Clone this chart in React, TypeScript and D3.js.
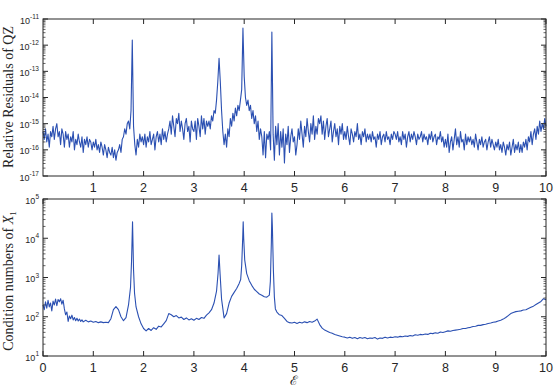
import React, { useRef, useEffect } from 'react';
import * as d3 from 'd3';

// log10 of the QZ relative residual, sampled every 0.025 in epsilon (0 .. 10)
const residualStep = 0.025;
const residualLog: number[] = [
  // 0.0
  -15.3, -15.6, -15.2, -15.7, -15.4, -15.9, -15.3, -15.5, -15.1, -15.6, -15.2, -15.0, -15.5, -15.3, -15.8, -15.2, -15.4, -15.9, -15.3, -15.6,
  // 0.5
  -15.4, -15.9, -15.5, -15.7, -15.3, -16.0, -15.6, -15.8, -15.4, -15.7, -15.9, -15.5, -16.1, -15.6, -15.8, -15.5, -15.9, -15.6, -15.7, -16.0,
  // 1.0
  -15.7, -15.9, -15.6, -16.0, -15.8, -16.1, -15.7, -15.9, -16.2, -15.8, -16.0, -16.3, -15.9, -16.1, -16.2, -15.9, -16.3, -16.0, -16.4, -16.1,
  // 1.5
  -16.0, -15.8, -16.1, -15.6, -15.5, -15.2, -15.4, -15.0, -14.9, -15.2, -14.5, -11.8, -15.1, -15.8, -16.2, -15.6, -15.9, -15.4, -15.7, -15.5,
  // 2.0
  -15.8, -15.4, -15.9, -15.5, -15.7, -15.3, -15.8, -15.6, -15.4, -16.0, -15.5, -15.3, -15.7, -15.4, -15.8, -15.2, -15.6, -15.3, -15.7, -15.4,
  // 2.5
  -15.2, -14.9, -15.4, -14.7, -15.1, -15.5, -14.8, -15.0, -14.6, -15.3, -14.9, -15.2, -15.6, -15.0, -14.8, -15.3, -15.1, -15.7, -14.9, -15.2,
  // 3.0
  -15.3, -14.9, -15.6, -14.8, -15.1, -15.5, -14.7, -15.2, -14.8, -15.4, -14.9, -15.1, -14.9, -15.2, -14.7, -14.9, -14.5, -14.6, -14.1, -13.4,
  // 3.5
  -12.5, -13.4, -14.5, -15.3, -15.8, -15.4, -15.9, -15.2, -15.5, -14.8, -15.1, -14.6, -14.9, -14.4, -14.7, -14.3, -14.5, -14.1, -13.7, -11.35,
  // 4.0
  -13.2, -14.0, -14.3, -14.1, -14.5, -14.3, -14.8, -14.5, -15.0, -14.7, -15.3, -14.9, -15.6, -15.2, -15.5, -16.2, -15.3, -16.3, -15.4, -15.6,
  // 4.5
  -15.3, -16.0, -11.5, -15.4, -16.4, -15.1, -15.8, -15.0, -16.2, -15.3, -15.9, -15.2, -16.5, -15.4, -15.8, -15.1, -16.1, -15.5, -15.2, -15.7,
  // 5.0
  -15.5, -16.2, -15.8, -15.2, -15.6, -14.9, -15.4, -15.9, -15.1, -15.5, -14.8, -15.3, -15.7, -15.0, -15.4, -14.7, -15.6, -15.1, -15.4, -14.8,
  // 5.5
  -15.0, -14.7, -15.4, -14.9, -15.6, -15.1, -14.8, -15.5, -15.2, -14.9, -15.7, -15.3, -15.0, -15.5, -15.2, -15.8, -15.1, -15.4, -15.0, -15.6,
  // 6.0
  -15.3, -15.6, -15.1, -15.5, -15.8, -15.2, -15.4, -15.7, -15.3, -15.5, -15.0, -15.6, -15.4, -15.8, -15.3, -15.5, -15.2, -15.7, -15.4, -15.6,
  // 6.5
  -15.4, -15.7, -15.3, -15.6, -15.5, -15.9, -15.4, -15.6, -15.3, -15.8, -15.5, -15.4, -15.7, -15.3, -15.6, -15.5, -15.8, -15.4, -15.6, -15.3,
  // 7.0
  -15.4, -15.6, -15.3, -15.7, -15.5, -15.8, -15.3, -15.6, -15.4, -15.9, -15.5, -15.3, -15.7, -15.4, -15.6, -15.3, -15.5, -15.8, -15.4, -15.6,
  // 7.5
  -15.5, -15.3, -15.7, -15.4, -15.6, -15.5, -15.8, -15.4, -15.6, -15.3, -15.7, -15.5, -15.4, -15.8, -15.5, -15.6, -15.3, -15.7, -15.5, -15.9,
  // 8.0
  -15.6, -15.9, -15.4, -16.1, -15.7, -15.5, -16.0, -15.6, -15.2, -15.8, -15.5, -15.9, -15.3, -15.7, -15.6, -16.0, -15.4, -15.8, -15.5, -15.7,
  // 8.5
  -15.5, -15.8, -15.6, -15.9, -15.4, -15.7, -16.0, -15.6, -15.8, -15.5, -15.9, -15.7, -15.6, -16.0, -15.7, -15.5, -15.9, -15.6, -15.8, -16.0,
  // 9.0
  -15.7, -15.9, -15.6, -16.0, -15.8, -16.1, -15.7, -15.9, -16.2, -15.8, -16.0, -15.7, -16.2, -15.9, -15.6, -16.1, -15.8, -16.0, -15.7, -16.1,
  // 9.5
  -15.8, -16.1, -15.7, -15.9, -15.6, -16.0, -15.5, -15.7, -15.3, -15.8, -15.4, -15.2, -15.6, -15.1, -15.4, -14.9, -15.3, -15.0, -15.2, -14.8,
  // 10.0
  -15.1,
];

// [epsilon, log10 of condition number of X1]
const condPoints: [number, number][] = [
  [0, 2.3], [0.025, 2.18], [0.05, 2.38], [0.075, 2.22], [0.1, 2.42], [0.125, 2.25], [0.15, 2.35], [0.175, 2.15],
  [0.2, 2.4], [0.225, 2.3], [0.25, 2.45], [0.275, 2.28], [0.3, 2.44], [0.325, 2.38], [0.35, 2.46], [0.375, 2.32],
  [0.4, 2.42], [0.425, 2.2], [0.45, 2.05], [0.475, 2.12], [0.5, 1.88], [0.525, 2.02], [0.55, 1.95], [0.575, 2.04],
  [0.6, 1.92], [0.625, 1.98], [0.65, 1.9], [0.675, 1.96], [0.7, 1.89], [0.725, 1.94], [0.75, 1.88], [0.775, 1.92],
  [0.8, 1.87], [0.85, 1.91], [0.9, 1.87], [0.95, 1.89], [1.0, 1.86], [1.05, 1.88], [1.1, 1.85], [1.15, 1.87],
  [1.2, 1.85], [1.25, 1.86], [1.3, 1.85], [1.35, 1.95], [1.4, 2.18], [1.45, 2.26], [1.5, 2.18], [1.55, 2.0],
  [1.6, 1.9], [1.65, 1.98], [1.7, 2.3], [1.74, 2.75], [1.76, 3.4], [1.78, 4.42], [1.8, 3.2], [1.82, 2.6],
  [1.85, 2.25], [1.9, 2.0], [1.95, 1.82], [2.0, 1.7], [2.05, 1.64], [2.1, 1.7], [2.15, 1.65], [2.2, 1.72],
  [2.25, 1.68], [2.3, 1.76], [2.35, 1.74], [2.4, 1.82], [2.45, 1.9], [2.5, 2.08], [2.55, 2.05], [2.6, 2.0],
  [2.65, 2.03], [2.7, 1.97], [2.75, 1.99], [2.8, 1.93], [2.85, 1.97], [2.9, 1.92], [2.95, 1.95], [3.0, 1.91],
  [3.05, 1.96], [3.1, 1.93], [3.15, 1.98], [3.2, 1.96], [3.25, 2.04], [3.3, 2.1], [3.35, 2.18], [3.4, 2.35],
  [3.45, 2.65], [3.48, 3.1], [3.5, 3.57], [3.52, 3.1], [3.55, 2.45], [3.6, 1.97], [3.65, 2.08], [3.7, 2.35],
  [3.75, 2.52], [3.8, 2.62], [3.85, 2.72], [3.9, 2.85], [3.93, 2.95], [3.95, 3.3], [3.97, 4.0], [3.98, 4.42],
  [3.99, 4.0], [4.01, 3.45], [4.05, 3.1], [4.1, 2.92], [4.15, 2.8], [4.2, 2.7], [4.25, 2.64], [4.3, 2.58],
  [4.35, 2.55], [4.4, 2.51], [4.45, 2.5], [4.5, 2.55], [4.52, 2.9], [4.54, 3.9], [4.55, 4.64], [4.56, 4.3],
  [4.58, 3.2], [4.6, 2.5], [4.62, 2.2], [4.65, 2.12], [4.7, 2.05], [4.75, 2.03], [4.8, 1.96], [4.85, 1.88],
  [4.9, 1.85], [4.95, 1.84], [5.0, 1.86], [5.05, 1.83], [5.1, 1.86], [5.15, 1.84], [5.2, 1.87], [5.25, 1.85],
  [5.3, 1.88], [5.35, 1.86], [5.4, 1.89], [5.45, 1.94], [5.5, 1.8], [5.55, 1.71], [5.6, 1.66], [5.65, 1.63],
  [5.7, 1.6], [5.75, 1.58], [5.8, 1.55], [5.85, 1.53], [5.9, 1.51], [5.95, 1.49], [6.0, 1.48], [6.05, 1.46],
  [6.1, 1.48], [6.15, 1.45], [6.2, 1.47], [6.25, 1.44], [6.3, 1.47], [6.35, 1.45], [6.4, 1.47], [6.45, 1.44],
  [6.5, 1.46], [6.55, 1.45], [6.6, 1.47], [6.65, 1.43], [6.7, 1.46], [6.75, 1.45], [6.8, 1.48], [6.85, 1.46],
  [6.9, 1.48], [6.95, 1.47], [7.0, 1.49], [7.05, 1.48], [7.1, 1.5], [7.15, 1.49], [7.2, 1.51], [7.25, 1.5],
  [7.3, 1.52], [7.35, 1.51], [7.4, 1.54], [7.45, 1.53], [7.5, 1.55], [7.55, 1.54], [7.6, 1.56], [7.65, 1.55],
  [7.7, 1.58], [7.75, 1.57], [7.8, 1.59], [7.85, 1.58], [7.9, 1.61], [7.95, 1.6], [8.0, 1.62], [8.05, 1.64],
  [8.1, 1.63], [8.15, 1.65], [8.2, 1.66], [8.25, 1.67], [8.3, 1.68], [8.35, 1.7], [8.4, 1.7], [8.45, 1.72],
  [8.5, 1.73], [8.55, 1.75], [8.6, 1.76], [8.65, 1.78], [8.7, 1.78], [8.75, 1.8], [8.8, 1.81], [8.85, 1.83],
  [8.9, 1.84], [8.95, 1.86], [9.0, 1.87], [9.05, 1.89], [9.1, 1.91], [9.15, 1.94], [9.2, 1.98], [9.25, 2.03],
  [9.3, 2.08], [9.35, 2.11], [9.4, 2.13], [9.45, 2.14], [9.5, 2.15], [9.55, 2.17], [9.6, 2.18], [9.65, 2.21],
  [9.7, 2.24], [9.75, 2.27], [9.8, 2.31], [9.85, 2.35], [9.9, 2.39], [9.95, 2.46], [10.0, 2.43],
];

const topXTicks = [1, 2, 3, 4, 5, 6, 7, 8, 9, 10];
const bottomXTicks = [0, 1, 2, 3, 4, 5, 6, 7, 8, 9, 10];
const residualDecades = [-17, -16, -15, -14, -13, -12, -11];
const condDecades = [1, 2, 3, 4, 5];

const LEFT = 43;
const RIGHT = 546;
const BLUE = '#2b50b2';
const AXIS = '#262626';
const SANS = 'Liberation Sans, Arial, Helvetica, sans-serif';
const SERIF = 'Liberation Serif, Times New Roman, serif';

const App: React.FC = () => {
  const svgRef = useRef<SVGSVGElement | null>(null);

  useEffect(() => {
    if (!svgRef.current) return;
    const svg = d3.select(svgRef.current);
    svg.selectAll('*').remove();

    const x = d3.scaleLinear().domain([0, 10]).range([LEFT, RIGHT]);

    const drawPanel = (
      top: number,
      bottom: number,
      decades: number[],
      xTicks: number[],
      pts: [number, number][]
    ) => {
      const lo = decades[0];
      const hi = decades[decades.length - 1];
      const y = d3.scaleLog().domain([10 ** lo, 10 ** hi]).range([bottom, top]);
      const g = svg.append('g');

      const line = d3
        .line<[number, number]>()
        .x((d) => x(d[0]))
        .y((d) => y(10 ** d[1]));

      g.append('path')
        .datum(pts)
        .attr('d', line)
        .attr('fill', 'none')
        .attr('stroke', BLUE)
        .attr('stroke-width', 1.1)
        .attr('stroke-linejoin', 'round');

      // box
      g.append('rect')
        .attr('x', LEFT)
        .attr('y', top)
        .attr('width', RIGHT - LEFT)
        .attr('height', bottom - top)
        .attr('fill', 'none')
        .attr('stroke', AXIS)
        .attr('stroke-width', 1);

      // x ticks, inward on bottom and top
      xTicks.forEach((t) => {
        const px = x(t);
        g.append('line').attr('x1', px).attr('x2', px).attr('y1', bottom).attr('y2', bottom - 5).attr('stroke', AXIS);
        g.append('line').attr('x1', px).attr('x2', px).attr('y1', top).attr('y2', top + 5).attr('stroke', AXIS);
        g.append('text')
          .attr('x', px)
          .attr('y', bottom + 15.5)
          .attr('text-anchor', 'middle')
          .attr('font-family', SANS)
          .attr('font-size', 12.5)
          .attr('fill', AXIS)
          .text(String(t));
      });

      // y ticks: major decades plus minor log ticks, on both sides
      decades.forEach((d) => {
        const py = y(10 ** d);
        g.append('line').attr('x1', LEFT).attr('x2', LEFT + 5).attr('y1', py).attr('y2', py).attr('stroke', AXIS);
        g.append('line').attr('x1', RIGHT).attr('x2', RIGHT - 5).attr('y1', py).attr('y2', py).attr('stroke', AXIS);
        const lab = g.append('text')
          .attr('x', LEFT - 4)
          .attr('y', py + 4.5)
          .attr('text-anchor', 'end')
          .attr('font-family', SANS)
          .attr('font-size', 9)
          .attr('fill', AXIS);
        lab.append('tspan').text('10');
        lab.append('tspan').attr('dy', -4.5).attr('font-size', 6.5).text(String(d));
        if (d < hi) {
          for (let k = 2; k <= 9; k++) {
            const my = y(k * 10 ** d);
            g.append('line').attr('x1', LEFT).attr('x2', LEFT + 2.5).attr('y1', my).attr('y2', my).attr('stroke', AXIS).attr('stroke-width', 0.7);
            g.append('line').attr('x1', RIGHT).attr('x2', RIGHT - 2.5).attr('y1', my).attr('y2', my).attr('stroke', AXIS).attr('stroke-width', 0.7);
          }
        }
      });
    };

    const residualPts: [number, number][] = residualLog.map((v, i) => [i * residualStep, v]);
    drawPanel(19, 176, residualDecades, topXTicks, residualPts);
    drawPanel(199, 356, condDecades, bottomXTicks, condPoints);

    // y labels
    svg.append('text')
      .attr('transform', 'translate(13,97) rotate(-90)')
      .attr('text-anchor', 'middle')
      .attr('font-family', SERIF)
      .attr('font-size', 14)
      .attr('fill', AXIS)
      .text('Relative Residuals of QZ');

    const condLabel = svg.append('text')
      .attr('transform', 'translate(13,281) rotate(-90)')
      .attr('text-anchor', 'middle')
      .attr('font-family', SERIF)
      .attr('font-size', 14)
      .attr('fill', AXIS);
    condLabel.append('tspan').text('Condition numbers of ');
    condLabel.append('tspan').attr('font-style', 'italic').text('X');
    condLabel.append('tspan').attr('dy', 3).attr('font-size', 9).text('1');

    // x label (script E)
    svg.append('text')
      .attr('x', 294)
      .attr('y', 385)
      .attr('text-anchor', 'middle')
      .attr('font-family', 'DejaVu Serif, serif')
      .attr('font-size', 13)
      .attr('fill', AXIS)
      .text('ℰ');
  }, []);

  return (
    <div style={{ position: 'absolute', left: 0, top: 0 }}>
      <svg ref={svgRef} width={554} height={387} style={{ display: 'block', background: '#fff' }}></svg>
    </div>
  );
};

export default App;
